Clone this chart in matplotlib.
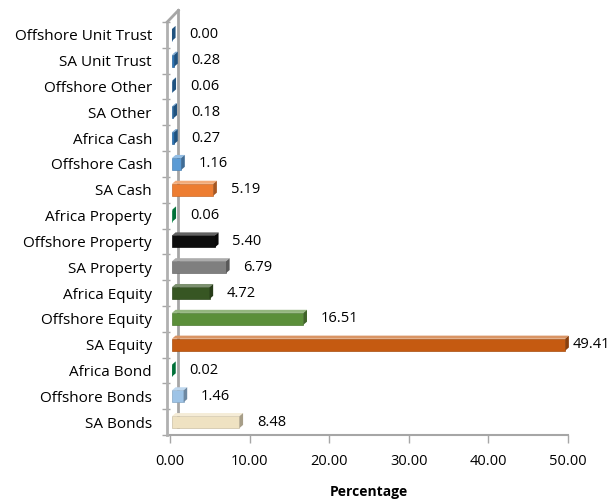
import numpy as np
import matplotlib.pyplot as plt
from matplotlib.patches import Polygon
import matplotlib.colors as mcolors

plt.rcParams['font.family'] = ['Open Sans', 'DejaVu Sans']

# data, bottom to top
categories = ['SA Bonds', 'Offshore Bonds', 'Africa Bond', 'SA Equity', 'Offshore Equity',
              'Africa Equity', 'SA Property', 'Offshore Property', 'Africa Property', 'SA Cash',
              'Offshore Cash', 'Africa Cash', 'SA Other', 'Offshore Other', 'SA Unit Trust',
              'Offshore Unit Trust']
values = [8.48, 1.46, 0.02, 49.41, 16.51, 4.72, 6.79, 5.40, 0.06, 5.19,
          1.16, 0.27, 0.18, 0.06, 0.28, 0.00]
colors = ['#efe2c2', '#9dc3e6', '#00a050', '#c55a11', '#5b8f3a',
          '#375623', '#7f7f7f', '#0d0d0d', '#00a050', '#ed7d31',
          '#5b9bd5', '#2e75b6', '#2e75b6', '#2e75b6', '#2e75b6', '#2e75b6']
xticks = [0, 10, 20, 30, 40, 50]


def shade(c, f):
    r, g, b = mcolors.to_rgb(c)
    return (r * f, g * f, b * f)


def lighten(c, f):
    r, g, b = mcolors.to_rgb(c)
    return (r + (1 - r) * f, g + (1 - g) * f, b + (1 - b) * f)


fig = plt.figure(figsize=(6.16, 5.0), dpi=100)
ax = fig.add_axes([170 / 616, 65 / 500, 398 / 616, 413 / 500])
ax.set_xlim(0, 50)
ax.set_ylim(-0.5, 15.5)

# size of depth offset in data units
dx = 0.45
dy = 0.12
h = 0.46
x0 = 0.25

y = np.arange(len(categories))

# back wall (3D side wall on the left)
wall = Polygon([(-0.35, -0.5), (-0.35, 15.5), (0.05 + 1.0, 15.5 + 0.3), (1.05, -0.5 + 0.3)],
               closed=True, facecolor='white', edgecolor='none', clip_on=False, zorder=1)
ax.add_patch(wall)
ax.plot([-0.35, -0.35], [-0.5, 15.5], color='#b0b0b0', lw=2, clip_on=False, zorder=2)
ax.plot([1.05, 1.05], [-0.5 + 0.3, 15.5 + 0.45], color='#a6a6a6', lw=2, clip_on=False, zorder=2)
ax.plot([-0.35, 1.05], [15.5, 15.95], color='#a6a6a6', lw=2, clip_on=False, zorder=2)

for yi, v, c in zip(y, values, colors):
    left = x0
    right = x0 + v
    bot = yi - h / 2
    top = yi + h / 2
    ax.add_patch(Polygon([(left, bot), (right, bot), (right, top), (left, top)],
                         closed=True, facecolor=c, edgecolor=shade(c, 0.85), lw=0.5, zorder=3))
    ax.add_patch(Polygon([(left, top), (right, top), (right + dx, top + dy), (left + dx, top + dy)],
                         closed=True, facecolor=lighten(c, 0.35), edgecolor='none', zorder=3))
    ax.add_patch(Polygon([(right, bot), (right + dx, bot + dy), (right + dx, top + dy), (right, top)],
                         closed=True, facecolor=shade(c, 0.7), edgecolor='none', zorder=3, clip_on=False))
    ax.annotate('%.2f' % v, xy=(right + dx, yi), xytext=(10 if v < 40 else 3, 0),
                textcoords='offset points', va='center', ha='left', fontsize=10.5,
                color='black', annotation_clip=False)

ax.set_yticks(y)
ax.set_yticklabels(categories, fontsize=11)
ax.set_yticks(np.arange(-0.5, 16, 1), minor=True)
ax.tick_params(axis='y', which='major', length=0, pad=13)
ax.tick_params(axis='y', which='minor', length=6, color='#a6a6a6', width=1)

ax.set_xticks(xticks)
ax.set_xticklabels(['%.2f' % t for t in xticks], fontsize=10.5)
ax.tick_params(axis='x', length=6, color='#a6a6a6', width=1, pad=8)
ax.set_xlabel('Percentage', fontsize=10, fontweight='bold', labelpad=11)

for s in ['top', 'right', 'left']:
    ax.spines[s].set_visible(False)
ax.spines['bottom'].set_color('#a6a6a6')
ax.spines['bottom'].set_linewidth(1.5)

fig.savefig('out.png', dpi=100)
